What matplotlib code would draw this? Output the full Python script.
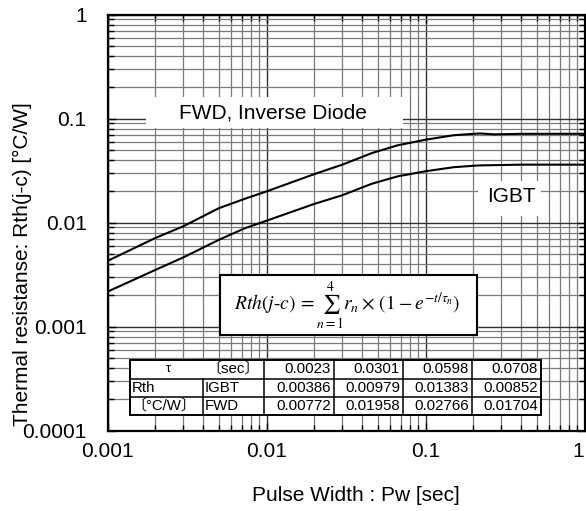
import matplotlib
matplotlib.use('Agg')
import matplotlib.pyplot as plt
from matplotlib.patches import Rectangle
from matplotlib.ticker import LogLocator, NullFormatter, FixedLocator, FixedFormatter

plt.rcParams['font.family'] = ['Liberation Sans', 'Noto Sans CJK JP', 'DejaVu Sans']
plt.rcParams['mathtext.fontset'] = 'stix'

# curves
pulse_width = [0.001, 0.002, 0.003, 0.005, 0.0073, 0.01, 0.02, 0.03, 0.046, 0.067,
               0.1, 0.15, 0.2, 0.22, 0.27, 0.4, 1.0]
rth_fwd = [0.00427, 0.0071, 0.0092, 0.0137, 0.0169, 0.0199, 0.0292, 0.0360, 0.0465, 0.0553,
           0.0625, 0.0690, 0.0712, 0.0718, 0.0704, 0.0712, 0.0713]
rth_igbt = [0.00216, 0.00350, 0.00462, 0.0068, 0.0088, 0.0104, 0.0151, 0.0183, 0.0236, 0.0278,
            0.0311, 0.0340, 0.0351, 0.0354, 0.0356, 0.0360, 0.0360]

x_ticks = [0.001, 0.01, 0.1, 1]
x_labels = ['0.001', '0.01', '0.1', '1']
y_ticks = [0.0001, 0.001, 0.01, 0.1, 1]
y_labels = ['0.0001', '0.001', '0.01', '0.1', '1']

# foster model table
tau_sec = ['0.0023', '0.0301', '0.0598', '0.0708']
r_igbt = ['0.00386', '0.00979', '0.01383', '0.00852']
r_fwd = ['0.00772', '0.01958', '0.02766', '0.01704']

W, H = 586, 511
fig = plt.figure(figsize=(W / 100, H / 100), dpi=100)


def fx(px):
    return px / W


def fy(py):
    return 1 - py / H


ax = fig.add_axes([fx(107.5), fy(430.5), (584.5 - 107.5) / W, (430.5 - 14.5) / H])
ax.set_xscale('log')
ax.set_yscale('log')
ax.set_xlim(0.001, 1)
ax.set_ylim(0.0001, 1)

ax.plot(pulse_width, rth_fwd, color='black', lw=1.5, zorder=3)
ax.plot(pulse_width, rth_igbt, color='black', lw=1.5, zorder=3)

ax.xaxis.set_major_locator(FixedLocator(x_ticks))
ax.xaxis.set_major_formatter(FixedFormatter(x_labels))
ax.yaxis.set_major_locator(FixedLocator(y_ticks))
ax.yaxis.set_major_formatter(FixedFormatter(y_labels))
ax.xaxis.set_minor_locator(LogLocator(base=10, subs=range(2, 10)))
ax.yaxis.set_minor_locator(LogLocator(base=10, subs=range(2, 10)))
ax.xaxis.set_minor_formatter(NullFormatter())
ax.yaxis.set_minor_formatter(NullFormatter())

ax.grid(which='major', color='#303030', lw=1.0)
ax.grid(which='minor', color='#7a7a7a', lw=0.9)
ax.tick_params(which='both', direction='in', top=True, right=True, color='black', width=1)
ax.tick_params(which='major', length=6)
ax.tick_params(which='minor', length=4)
ax.tick_params(axis='x', labelsize=15, pad=8)
ax.tick_params(axis='y', labelsize=15, pad=15)
for s in ax.spines.values():
    s.set_linewidth(1.6)
# last x label sits on the right edge of the picture
ax.get_xticklabels()[-1].set_horizontalalignment('right')

fig.text(fx(356), fy(495), 'Pulse Width : Pw [sec]', fontsize=15, ha='center', va='center')
fig.text(fx(22), fy(264), 'Thermal resistanse: Rth(j-c) [°C/W]', fontsize=15,
         rotation=90, ha='center', va='center')


def box(x0, y0, x1, y1, edge='none', lw=0):
    fig.add_artist(Rectangle((fx(x0), fy(y1)), (x1 - x0) / W, (y1 - y0) / H,
                             transform=fig.transFigure, facecolor='white',
                             edgecolor=edge, lw=lw))


# curve labels
box(146, 97, 403, 128)
fig.text(fx(273), fy(113), 'FWD, Inverse Diode', fontsize=15, ha='center', va='center')
box(478, 181, 541, 216)
fig.text(fx(511), fy(197), 'IGBT', fontsize=15, ha='center', va='center')

# formula
box(220, 275, 477, 335, edge='black', lw=1.5)
fig.text(fx(347), fy(305),
         r'$Rth(j\text{-}c)\,=\sum_{n=1}^{4}r_n\times\,(1-e^{-t/\tau_n})$',
         fontsize=14, ha='center', va='center')

# table
cols = [130, 203, 264, 334, 403, 472, 541]
rows = [360, 378.5, 397, 415]
box(cols[0], rows[0], cols[-1], rows[-1], edge='black', lw=1.4)
for r in rows[1:-1]:
    fig.add_artist(plt.Line2D([fx(cols[0]), fx(cols[-1])], [fy(r), fy(r)],
                              transform=fig.transFigure, color='black', lw=1.1))
for i, c in enumerate(cols[1:-1]):
    top = rows[1] if i == 0 else rows[0]
    fig.add_artist(plt.Line2D([fx(c), fx(c)], [fy(top), fy(rows[-1])],
                              transform=fig.transFigure, color='black', lw=1.1))

fs = 10.8
cy = [(rows[k] + rows[k + 1]) / 2 for k in range(3)]
fig.text(fx(168), fy(cy[0]), 'τ', fontsize=fs - 1.5, ha='center', va='center')
fig.text(fx(206), fy(cy[0]), '〔sec〕', fontsize=fs, ha='left', va='center')
fig.text(fx(cols[0] + 2), fy(cy[1]), 'Rth', fontsize=fs, ha='left', va='center')
fig.text(fx(cols[1] + 2), fy(cy[1]), 'IGBT', fontsize=fs, ha='left', va='center')
fig.text(fx(cols[0] + 1), fy(cy[2]), '〔°C/W〕', fontsize=fs, ha='left', va='center')
fig.text(fx(cols[1] + 2), fy(cy[2]), 'FWD', fontsize=fs, ha='left', va='center')
for row_vals, yy in zip([tau_sec, r_igbt, r_fwd], cy):
    for k, v in enumerate(row_vals):
        fig.text(fx(cols[k + 3] - 3), fy(yy), v, fontsize=fs, ha='right', va='center')

fig.savefig('out.png', dpi=100)
